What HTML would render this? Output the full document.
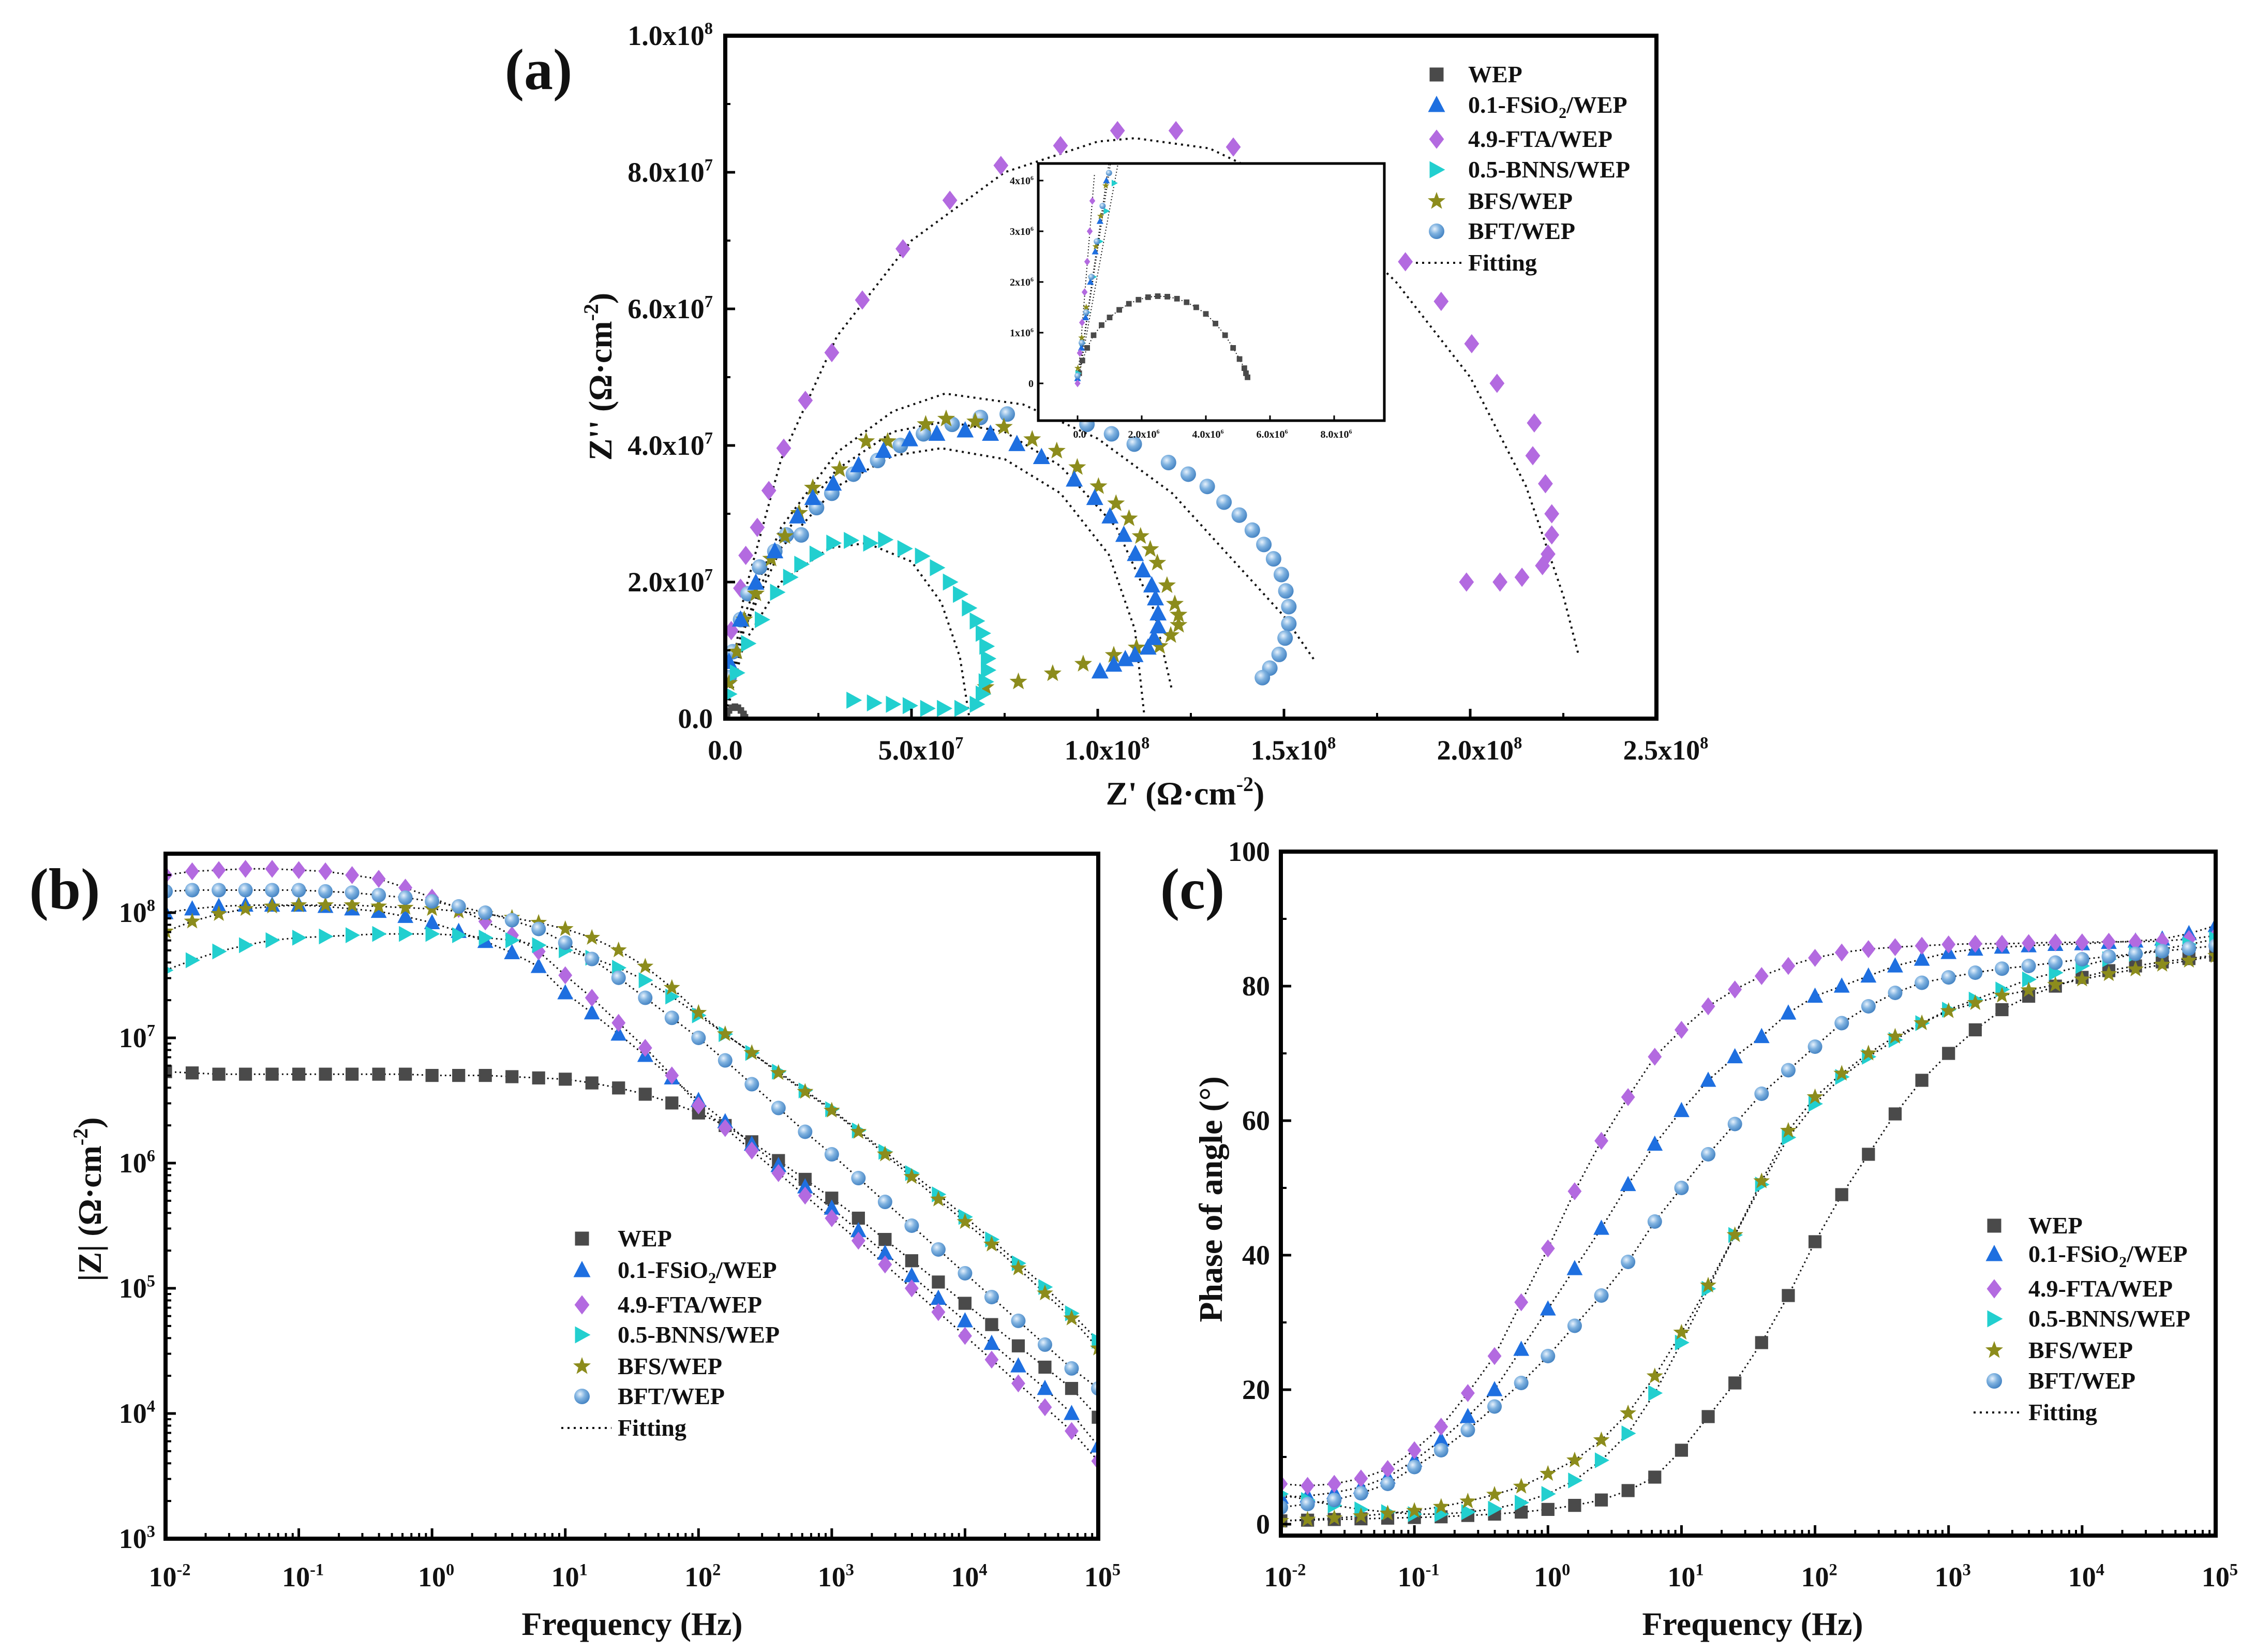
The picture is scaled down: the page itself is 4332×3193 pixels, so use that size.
<!DOCTYPE html>
<html><head><meta charset="utf-8"><style>
html,body{margin:0;padding:0;background:#fff}
svg{display:block;font-family:"Liberation Serif",serif;font-weight:bold}
</style></head><body>
<svg id="fig" width="4332" height="3193" viewBox="0 0 4332 3193" xmlns="http://www.w3.org/2000/svg">
<defs>
<radialGradient id="sph" cx="0.38" cy="0.35" r="0.7"><stop offset="0" stop-color="#e8f2fc"/><stop offset="0.45" stop-color="#7fb2e0"/><stop offset="1" stop-color="#3f7fc0"/></radialGradient>
<clipPath id="clipA"><rect x="1402" y="69" width="1800" height="1320"/></clipPath>
<clipPath id="clipI"><rect x="2007" y="316" width="669" height="497"/></clipPath>
<clipPath id="clipB"><rect x="320" y="1650" width="1803" height="1324"/></clipPath>
<clipPath id="clipC"><rect x="2476" y="1646" width="1807" height="1322"/></clipPath>
</defs>
<g id="layer"></g>
</svg>
<script>
// ---------- data ----------
const seriesNames=["WEP","0.1-FSiO2/WEP","4.9-FTA/WEP","0.5-BNNS/WEP","BFS/WEP","BFT/WEP"];
const logFreq=[-2,-1.8,-1.6,-1.4,-1.2,-1,-0.8,-0.6,-0.4,-0.2,0,0.2,0.4,0.6,0.8,1,1.2,1.4,1.6,1.8,2,2.2,2.4,2.6,2.8,3,3.2,3.4,3.6,3.8,4,4.2,4.4,4.6,4.8,5];
// Bode |Z| (log10 ohm cm2)
const zWEP=[6.73,6.72,6.71,6.71,6.71,6.71,6.71,6.71,6.71,6.71,6.7,6.7,6.7,6.69,6.68,6.67,6.64,6.6,6.55,6.48,6.4,6.3,6.17,6.02,5.87,5.72,5.56,5.39,5.22,5.05,4.88,4.71,4.54,4.37,4.2,3.97];
const zFSiO2=[8.0,8.03,8.05,8.06,8.06,8.06,8.05,8.03,8.01,7.97,7.92,7.85,7.77,7.68,7.57,7.36,7.2,7.03,6.86,6.68,6.5,6.33,6.15,5.98,5.81,5.64,5.46,5.28,5.1,4.92,4.74,4.56,4.38,4.2,4.0,3.74];
const zFTA=[8.3,8.33,8.34,8.35,8.35,8.34,8.33,8.3,8.27,8.2,8.12,8.03,7.93,7.82,7.69,7.5,7.32,7.12,6.92,6.7,6.46,6.28,6.1,5.92,5.74,5.56,5.38,5.19,5.0,4.81,4.62,4.43,4.24,4.05,3.86,3.62];
const zBNNS=[7.54,7.62,7.69,7.74,7.78,7.8,7.81,7.82,7.83,7.83,7.83,7.82,7.8,7.78,7.74,7.7,7.64,7.56,7.46,7.33,7.18,7.03,6.88,6.73,6.58,6.43,6.26,6.09,5.92,5.75,5.57,5.39,5.2,5.01,4.8,4.58];
const zBFS=[7.85,7.93,7.99,8.03,8.05,8.06,8.06,8.06,8.05,8.04,8.03,8.01,7.99,7.96,7.92,7.87,7.8,7.7,7.57,7.4,7.2,7.03,6.88,6.72,6.57,6.42,6.25,6.07,5.89,5.71,5.53,5.35,5.16,4.96,4.76,4.52];
const zBFT=[8.17,8.18,8.18,8.18,8.18,8.18,8.17,8.16,8.14,8.12,8.09,8.05,8.0,7.94,7.87,7.76,7.63,7.48,7.32,7.16,7.0,6.82,6.63,6.44,6.25,6.07,5.88,5.69,5.5,5.31,5.12,4.93,4.74,4.55,4.36,4.2];
// Phase angle (deg)
const pWEP=[0.5,0.6,0.7,0.8,0.9,1.0,1.1,1.3,1.5,1.8,2.2,2.8,3.6,5,7,11,16,21,27,34,42,49,55,61,66,70,73.5,76.5,78.5,80,81.3,82.3,83,83.6,84.1,84.6];
const pFSiO2=[4,4.2,4.7,5.5,7,9.5,12.5,16,20,26,32,38,44,50.5,56.5,61.5,66,69.5,72.5,76,78.5,80,81.5,83,84,85,85.5,85.8,86,86.2,86.3,86.5,86.7,87,87.8,89];
const pFTA=[6,5.7,6,6.8,8.2,11,14.5,19.5,25,33,41,49.5,57,63.5,69.5,73.5,77,79.5,81.5,83,84.2,85,85.5,85.8,86,86.2,86.3,86.3,86.4,86.5,86.5,86.6,86.6,86.7,87,87.5];
const pBNNS=[4.5,3.6,2.8,2.2,1.8,1.5,1.5,1.8,2.3,3.2,4.5,6.5,9.5,13.5,19.5,27,35,43,50.5,57.5,62.5,66.5,69.5,72,74.5,76.5,78,79.5,81,82,83,84,84.8,85.5,86.2,87];
const pBFS=[0.5,0.7,0.9,1.2,1.6,2,2.6,3.4,4.4,5.6,7.5,9.5,12.5,16.5,22,28.5,35.5,43,51,58.5,63.5,67,70,72.5,74.5,76.3,77.5,78.6,79.4,80.2,81,81.8,82.5,83.2,83.8,84.5];
const pBFT=[2.5,3,3.6,4.6,6,8.5,11,14,17.5,21,25,29.5,34,39,45,50,55,59.5,64,67.5,71,74.5,77,79,80.5,81.3,82,82.6,83,83.5,84,84.4,84.8,85.2,85.6,86];
// Nyquist (units of 1e7 ohm cm2): [Z', Z'']
const nyWEP=[[0.01,0.02],[0.05,0.08],[0.1,0.12],[0.18,0.16],[0.26,0.175],[0.34,0.16],[0.42,0.12],[0.49,0.07],[0.53,0.02]];
const nyFSiO2=[[0.1,0.83],[0.41,1.45],[0.82,1.99],[1.33,2.45],[1.94,2.96],[2.35,3.23],[2.9,3.44],[3.58,3.71],[4.25,3.92],[4.95,4.09],[5.68,4.17],[6.44,4.22],[7.12,4.17],[7.83,4.02],[8.49,3.83],[9.37,3.5],[9.92,3.23],[10.33,2.96],[10.7,2.69],[11.01,2.41],[11.21,2.17],[11.45,1.95],[11.55,1.76],[11.62,1.54],[11.62,1.35],[11.51,1.18],[11.35,1.04],[11.0,0.93],[10.74,0.87],[10.43,0.79],[10.06,0.69]];
const nyFTA=[[0,0.83],[0.16,1.29],[0.41,1.91],[0.55,2.39],[0.86,2.8],[1.17,3.34],[1.57,3.96],[2.15,4.66],[2.86,5.36],[3.68,6.13],[4.77,6.88],[6.03,7.59],[7.4,8.1],[9.0,8.39],[10.53,8.61],[12.1,8.61],[13.64,8.37],[15.85,7.82],[17.14,7.27],[18.26,6.69],[19.22,6.11],[20.04,5.49],[20.72,4.91],[21.72,4.33],[21.68,3.85],[22.02,3.44],[22.19,3.0],[22.19,2.69],[22.09,2.41],[21.94,2.24],[21.39,2.07],[20.8,2.0],[19.9,2.0]];
const nyBNNS=[[0.1,0.36],[0.31,0.67],[0.61,1.1],[0.98,1.45],[1.39,1.85],[1.74,2.07],[2.04,2.26],[2.45,2.41],[2.9,2.57],[3.37,2.61],[3.89,2.57],[4.29,2.62],[4.81,2.49],[5.28,2.38],[5.68,2.21],[6.03,2.0],[6.3,1.82],[6.54,1.62],[6.75,1.43],[6.91,1.25],[7.01,1.06],[7.05,0.88],[7.05,0.71],[6.99,0.54],[6.91,0.36],[6.75,0.21],[6.34,0.15],[5.87,0.15],[5.42,0.15],[4.95,0.19],[4.5,0.21],[3.99,0.23],[3.44,0.27]];
const nyBFS=[[0.1,0.52],[0.31,0.98],[0.51,1.45],[0.82,1.83],[1.23,2.34],[1.6,2.67],[1.98,3.01],[2.35,3.38],[3.07,3.65],[3.78,4.06],[4.36,4.06],[5.38,4.31],[5.93,4.39],[6.71,4.35],[7.48,4.27],[8.24,4.09],[8.9,3.92],[9.45,3.68],[10.02,3.4],[10.49,3.15],[10.84,2.93],[11.15,2.67],[11.41,2.48],[11.6,2.28],[11.86,1.95],[12.07,1.68],[12.17,1.52],[12.17,1.37],[11.96,1.22],[11.66,1.06],[11.04,1.04],[10.43,0.93],[9.61,0.8],[8.79,0.66],[7.87,0.54],[6.99,0.46]];
const nyBFT=[[0.1,0.6],[0.2,0.98],[0.41,1.45],[0.61,1.83],[0.92,2.22],[1.33,2.45],[1.64,2.69],[2.04,2.69],[2.45,3.09],[2.86,3.3],[3.44,3.58],[4.09,3.78],[4.7,4.0],[5.32,4.17],[6.09,4.31],[6.85,4.41],[7.57,4.46],[8.73,4.48],[9.71,4.31],[10.37,4.17],[10.98,4.02],[11.9,3.75],[12.43,3.58],[12.94,3.4],[13.39,3.17],[13.8,2.98],[14.15,2.76],[14.46,2.55],[14.72,2.34],[14.93,2.11],[15.05,1.87],[15.13,1.64],[15.13,1.39],[15.03,1.18],[14.87,0.94],[14.62,0.74],[14.42,0.6]];
// Nyquist fitting curves (1e7)
const fitFTA=[[0,0],[0.5,1.8],[1.5,3.8],[3,5.6],[5,7.0],[7.5,8.0],[10,8.45],[11,8.5],[13,8.35],[15.5,7.7],[18,6.4],[20,5.0],[21.5,3.4],[22.5,1.8],[22.9,0.95]];
const fitBFT=[[0,0],[0.5,1.5],[1.5,2.8],[3,3.9],[4.5,4.5],[5.9,4.76],[8,4.6],[10,4.1],[12,3.3],[13.5,2.4],[15,1.5],[15.85,0.83]];
const fitBFS=[[0,0],[0.5,1.35],[1.5,2.65],[3,3.65],[4.5,4.2],[5.9,4.35],[7.5,4.2],[9,3.7],[10.5,2.8],[11.5,1.6],[12,0.4]];
const fitFSiO2=[[0,0],[0.5,1.3],[1.5,2.5],[3,3.4],[4.5,3.85],[5.8,3.96],[7.5,3.8],[9,3.3],[10.3,2.4],[11,1.3],[11.25,0.05]];
const fitBNNS=[[0,0],[0.5,1.1],[1.5,2.0],[2.8,2.5],[3.8,2.57],[5,2.3],[5.8,1.7],[6.3,0.9],[6.54,0.05]];
// Inset (units 1e6)
const inWEP=[[0.05,0.2],[0.15,0.45],[0.3,0.7],[0.5,0.95],[0.75,1.15],[1.0,1.3],[1.3,1.45],[1.6,1.57],[1.9,1.65],[2.2,1.7],[2.5,1.72],[2.8,1.71],[3.1,1.67],[3.4,1.6],[3.7,1.5],[4.0,1.37],[4.3,1.18],[4.6,0.95],[4.85,0.7],[5.05,0.48],[5.2,0.3],[5.3,0.12],[5.25,0.2]];
const inFTA=[[0,0],[0.07,0.6],[0.14,1.2],[0.22,1.8],[0.3,2.4],[0.38,3.0],[0.46,3.6]];
const inFSiO2=[[0,0.1],[0.12,0.7],[0.25,1.3],[0.4,2.0],[0.55,2.6],[0.7,3.2],[0.9,4.0]];
const inBNNS=[[0.02,0.2],[0.15,0.8],[0.3,1.4],[0.5,2.1],[0.7,2.8],[0.9,3.4],[1.15,3.95]];
const inBFS=[[0.01,0.3],[0.13,0.9],[0.27,1.5],[0.42,2.1],[0.57,2.7],[0.72,3.3],[0.88,3.9]];
const inBFT=[[0,0.15],[0.13,0.8],[0.27,1.4],[0.43,2.1],[0.6,2.8],[0.78,3.5],[0.98,4.15]];

// ---------- axes ----------
const ax=v=>1402+72*v, ay=v=>1389-132*v;
const ix=v=>2083+62*v, iy=v=>741-98*v;
const bx=v=>320+257.57*(v+2), by=v=>2974-242*(v-3);
const cx=v=>2476+258.14*(v+2), cy=v=>2946-13*v;

const NS="http://www.w3.org/2000/svg";
const L=document.getElementById('layer');
function mk(tag,attrs,parent){const e=document.createElementNS(NS,tag);for(const k in attrs)e.setAttribute(k,attrs[k]);(parent||L).appendChild(e);return e;}
const COL=["#4a4a4a","#1e6fe0","#b36ae0","#22cfcf","#8c8c1c","url(#sph)"];
const TICKF=54, TITLEF=64, LEGF=46;

function marker(type,x,y,s,g){
  let e;
  if(type===0){e=mk('rect',{x:x-s*0.45,y:y-s*0.45,width:s*0.9,height:s*0.9,fill:COL[0]},g);}
  else if(type===1){e=mk('polygon',{points:`${x},${y-s*0.6} ${x+s*0.55},${y+s*0.45} ${x-s*0.55},${y+s*0.45}`,fill:COL[1]},g);}
  else if(type===2){e=mk('polygon',{points:`${x},${y-s*0.62} ${x+s*0.48},${y} ${x},${y+s*0.62} ${x-s*0.48},${y}`,fill:COL[2]},g);}
  else if(type===3){e=mk('polygon',{points:`${x-s*0.45},${y-s*0.55} ${x+s*0.55},${y} ${x-s*0.45},${y+s*0.55}`,fill:COL[3]},g);}
  else if(type===4){let p=[];for(let i=0;i<10;i++){const r=i%2?s*0.25:s*0.6;const a=-Math.PI/2+i*Math.PI/5;p.push((x+r*Math.cos(a)).toFixed(1)+','+(y+r*Math.sin(a)).toFixed(1));}e=mk('polygon',{points:p.join(' '),fill:COL[4]},g);}
  else {e=mk('circle',{cx:x,cy:y,r:s*0.5,fill:'url(#sph)'},g);}
  
  
  return e;
}
function dotted(pts,g,w){
  const e=mk('polyline',{points:pts.map(p=>p[0].toFixed(1)+','+p[1].toFixed(1)).join(' '),fill:'none',stroke:'#111','stroke-width':w||4,'stroke-dasharray':(w?w:4)+' '+(w?w*2:8)},g);
  
  
  return e;
}
function text(x,y,str,size,anchor,g,name){
  const e=mk('text',{x:x,y:y,'font-size':size,'text-anchor':anchor||'middle',fill:'#111'},g);
  e.innerHTML=str;
  
  
  return e;
}
function frame(x1,y1,x2,y2,name){
  const e=mk('rect',{x:x1,y:y1,width:x2-x1,height:y2-y1,fill:'none',stroke:'#000','stroke-width':8});
  
  
}
function tick(x1,y1,x2,y2,w){mk('line',{x1:x1,y1:y1,x2:x2,y2:y2,stroke:'#000','stroke-width':w||5});}
function sci(m,e,big){return `${m}x10<tspan font-size="${big*0.6}" dy="-${big*0.4}">${e}</tspan>`;}
function pw(e,big){return `10<tspan font-size="${big*0.6}" dy="-${big*0.4}">${e}</tspan>`;}
const sup2=`(Ω·cm<tspan font-size='40' dy='-26'>-2</tspan><tspan dy='26'>)</tspan>`;

// ---------- panel (a) ----------
const gA=mk('g',{'clip-path':'url(#clipA)'});
[fitFTA,fitBFT,fitBFS,fitFSiO2,fitBNNS].forEach(f=>dotted(f.map(p=>[ax(p[0]),ay(p[1])]),gA));
const nyAll=[nyWEP,nyFSiO2,nyFTA,nyBNNS,nyBFS,nyBFT];
[2,5,4,1,3,0].forEach(k=>{nyAll[k].forEach(p=>marker(k,ax(p[0]),ay(p[1]),k===0?14:30,gA));});
// inset
const gIbox=mk('rect',{x:2007,y:316,width:669,height:497,fill:'#fff',stroke:'#000','stroke-width':5});

const gI=mk('g',{'clip-path':'url(#clipI)'});
const inAll=[inWEP,inFSiO2,inFTA,inBNNS,inBFS,inBFT];
[1,2,3,4,5].forEach(k=>{dotted([[ix(0),iy(0)],[ix(inAll[k][6][0]*1.15),iy(inAll[k][6][1]*1.15)]],gI,2);});
dotted(inWEP.map(p=>[ix(p[0]),iy(p[1])]),gI,2);
[0,1,2,3,4,5].forEach(k=>{inAll[k].forEach(p=>marker(k,ix(p[0]),iy(p[1]),12,gI));});
[0,2,4,6,8].forEach(v=>{tick(ix(v),813,ix(v),803,3);text(ix(v)+4,846,v===0?'0.0':sci(v.toFixed(1),6,20),20,'middle',null,'inset-x-tick');});
[0,1,2,3,4].forEach(v=>{tick(2007,iy(v),2017,iy(v),3);text(1998,iy(v)+7,v===0?'0':sci(v,6,20),20,'end',null,'inset-y-tick');});
frame(1402,69,3202,1389,'nyquist-axes-frame');
[0,5,10,15,20,25].forEach((v,i)=>{tick(ax(v),1389,ax(v),1370);if(v<25)tick(ax(v+2.5),1389,ax(v+2.5),1378,4);
  const lab=['0.0',sci('5.0',7,TICKF),sci('1.0',8,TICKF),sci('1.5',8,TICKF),sci('2.0',8,TICKF),sci('2.5',8,TICKF)][i];
  text(ax(v)+(i?18:0),1468,lab,TICKF,'middle',null,'x-tick-label');});
[0,2,4,6,8,10].forEach((v,i)=>{tick(1402,ay(v),1421,ay(v));if(v<10)tick(1402,ay(v+1),1412,ay(v+1),4);
  const lab=['0.0',sci('2.0',7,TICKF),sci('4.0',7,TICKF),sci('6.0',7,TICKF),sci('8.0',7,TICKF),sci('1.0',8,TICKF)][i];
  text(1378,ay(v)+18,lab,TICKF,'end',null,'y-tick-label');});
text(2291,1555,"Z' "+sup2,TITLEF,'middle',null,'x-axis-title');
const ya=text(0,0,"Z'' "+sup2,TITLEF,'middle',null,'y-axis-title');ya.setAttribute('transform','translate(1182,728) rotate(-90)');
text(1041,172,'(a)',112,'middle',null,'panel-label-a');
// legends
function legend(mx,tx,ys,name){
  const g=mk('g',{});
  const labels=['WEP','0.1-FSiO<tspan font-size="30" dy="10">2</tspan><tspan dy="-10">/WEP</tspan>','4.9-FTA/WEP','0.5-BNNS/WEP','BFS/WEP','BFT/WEP','Fitting'];
  ys.forEach((y,i)=>{
    if(i<6)marker(i,mx,y,30,g);else dotted([[mx-40,y],[tx-12,y]],g,4);
    text(tx,y+15,labels[i],LEGF,'start',g,'legend-entry');
  });
}
legend(2777,2838,[144,203,269,328,389,447,508],'legend-a');

// ---------- panel (b) ----------
const gB=mk('g',{'clip-path':'url(#clipB)'});
const zAll=[zWEP,zFSiO2,zFTA,zBNNS,zBFS,zBFT];
zAll.forEach(a=>dotted(logFreq.map((f,i)=>[bx(f),by(a[i])]),gB,3));
[0,1,2,3,4,5].forEach(k=>{zAll[k].forEach((v,i)=>marker(k,bx(logFreq[i]),by(v),28,gB));});
frame(320,1650,2123,2974,'bode-axes-frame');
for(let d=-2;d<=5;d++){tick(bx(d),2974,bx(d),2954);if(d<5)for(let m=2;m<10;m++){const xx=bx(d+Math.log10(m));tick(xx,2974,xx,2963,4);}
  text(bx(d)+8,3066,pw(d,TICKF),TICKF,'middle',null,'x-tick-label');}
for(let d=3;d<=8;d++){tick(320,by(d),340,by(d));for(let m=2;m<10;m++){const yy=by(d+Math.log10(m));if(yy>1650)tick(320,yy,331,yy,4);}
  text(300,by(d)+18,pw(d,TICKF),TICKF,'end',null,'y-tick-label');}
text(1222,3160,'Frequency (Hz)',TITLEF,'middle',null,'x-axis-title');
const yb=text(0,0,"|Z| "+sup2,TITLEF,'middle',null,'y-axis-title');yb.setAttribute('transform','translate(195,2318) rotate(-90)');
text(125,1756,'(b)',112,'middle',null,'panel-label-b');
legend(1125,1194,[2394,2455,2522,2580,2641,2699,2760],'legend-b');

// ---------- panel (c) ----------
const gC=mk('g',{'clip-path':'url(#clipC)'});
const pAll=[pWEP,pFSiO2,pFTA,pBNNS,pBFS,pBFT];
pAll.forEach(a=>dotted(logFreq.map((f,i)=>[cx(f),cy(a[i])]),gC,3));
[0,1,2,3,4,5].forEach(k=>{pAll[k].forEach((v,i)=>marker(k,cx(logFreq[i]),cy(v),28,gC));});
frame(2476,1646,4283,2968,'phase-axes-frame');
for(let d=-2;d<=5;d++){tick(cx(d),2968,cx(d),2948);if(d<5)for(let m=2;m<10;m++){const xx=cx(d+Math.log10(m));tick(xx,2968,xx,2957,4);}
  text(cx(d)+8,3066,pw(d,TICKF),TICKF,'middle',null,'x-tick-label');}
[0,20,40,60,80,100].forEach(v=>{tick(2476,cy(v),2496,cy(v));if(v<100)tick(2476,cy(v+10),2487,cy(v+10),4);text(2455,cy(v)+18,v,TICKF,'end',null,'y-tick-label');});
text(3388,3160,'Frequency (Hz)',TITLEF,'middle',null,'x-axis-title');
const yc=text(0,0,'Phase of angle (°)',TITLEF,'middle',null,'y-axis-title');yc.setAttribute('transform','translate(2362,2318) rotate(-90)');
text(2305,1756,'(c)',112,'middle',null,'panel-label-c');
legend(3855,3921,[2369,2424,2491,2549,2610,2669,2730],'legend-c');
</script>
</body></html>
